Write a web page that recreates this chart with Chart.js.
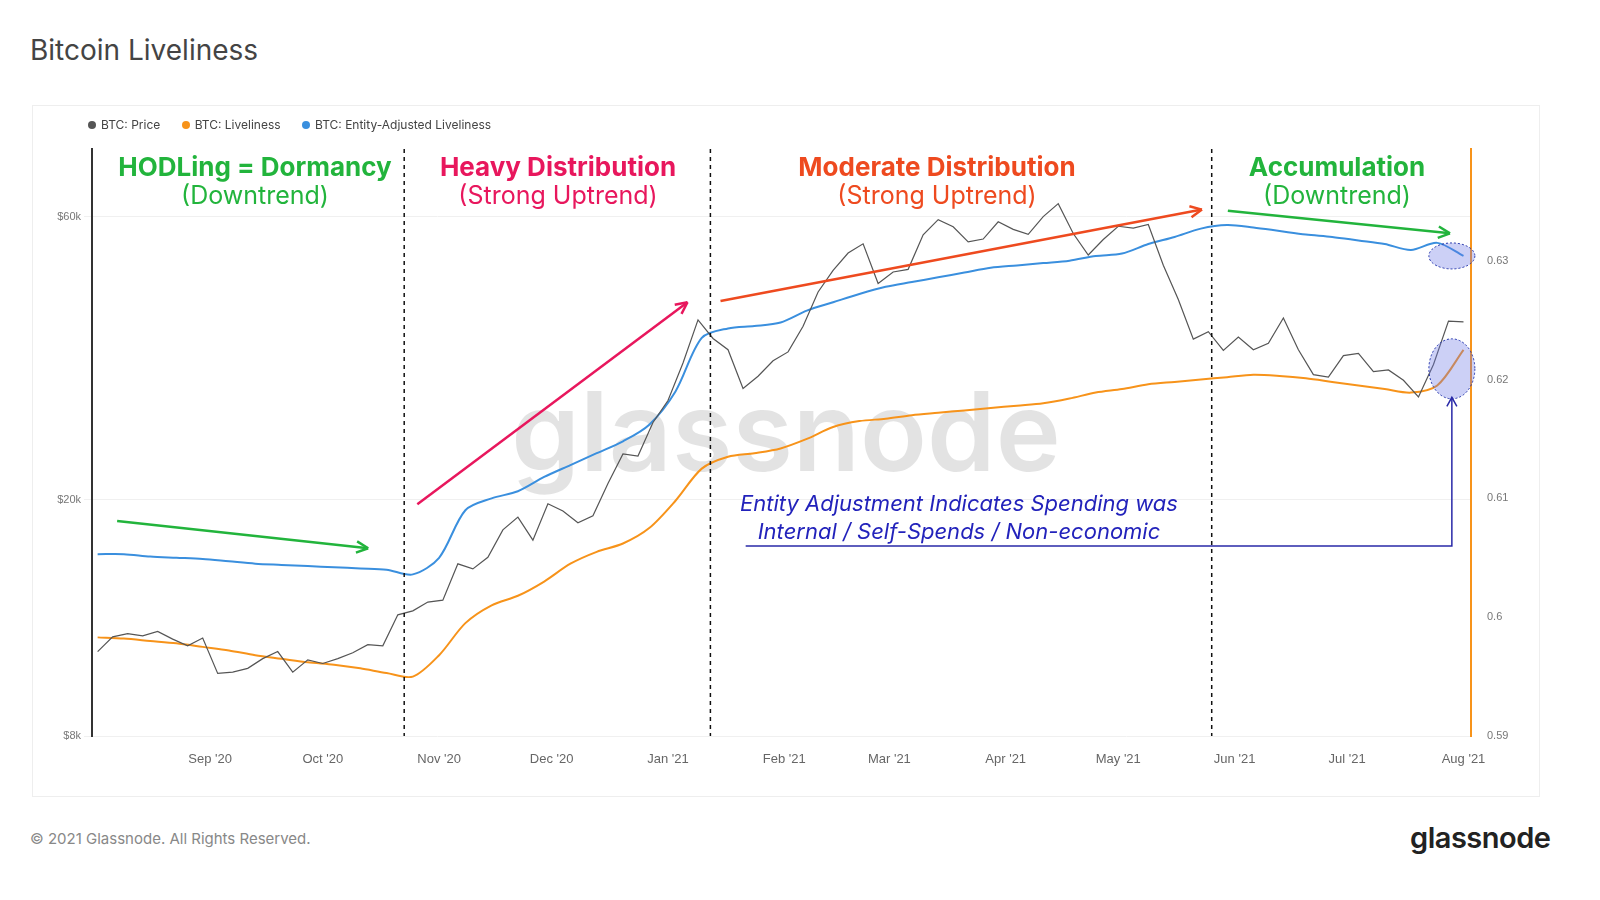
<!DOCTYPE html>
<html>
<head>
<meta charset="utf-8">
<script src="https://cdn.jsdelivr.net/npm/chart.js@4.4.1/dist/chart.umd.min.js"></script>
<style>
  body { margin: 0; background: #fff; font-family: Inter, "Noto Sans", sans-serif; }
  #title { position: absolute; left: 30px; top: 33px; font-size: 28px; color: #444; }
  #box { position: absolute; left: 32px; top: 105px; width: 1508px; height: 692px; border: 1px solid #eee; box-sizing: border-box; }
  #legend { position: absolute; left: 88px; top: 117px; font-size: 12px; color: #444; }
  #legend span { margin-right: 18px; }
  #legend i { display: inline-block; width: 8px; height: 8px; border-radius: 50%; margin-right: 5px; }
  #foot { position: absolute; left: 30px; top: 829px; font-size: 15px; color: #888; }
  #logo { position: absolute; left: 1410px; top: 820px; font-size: 29px; font-weight: 600; color: #222; letter-spacing: -0.5px; }
</style>
</head>
<body>
<div id="title">Bitcoin Liveliness</div>
<div id="box"><canvas id="c"></canvas></div>
<div id="legend">
  <span><i style="background:#555"></i>BTC: Price</span>
  <span><i style="background:#f7931a"></i>BTC: Liveliness</span>
  <span><i style="background:#3a8fde"></i>BTC: Entity-Adjusted Liveliness</span>
</div>
<div id="foot">© 2021 Glassnode. All Rights Reserved.</div>
<div id="logo">glassnode</div>
<script>
// days since 2 Aug 2020
const monthTicks = [30, 60, 91, 121, 152, 183, 211, 242, 272, 303, 333, 364];
const monthLabels = ["Sep '20", "Oct '20", "Nov '20", "Dec '20", "Jan '21", "Feb '21", "Mar '21", "Apr '21", "May '21", "Jun '21", "Jul '21", "Aug '21"];
const priceTicks = [8000, 20000, 60000];
const livelinessTicks = [0.59, 0.60, 0.61, 0.62, 0.63];

// price every 4 days
const price = [11100, 11750, 11900, 11800, 12000, 11650, 11350, 11700, 10200, 10250, 10400, 10800,
  11100, 10250, 10750, 10600, 10800, 11050, 11400, 11350, 12800, 13000, 13450, 13550,
  15600, 15300, 16000, 17800, 18700, 17100, 19700, 19150, 18300, 18800, 21300, 23900,
  23700, 27000, 29400, 34000, 40200, 37400, 35800, 30800, 32300, 34300, 35500, 39200,
  44800, 48700, 52100, 54000, 46300, 48400, 48900, 55900, 59300, 57700, 54400, 55000,
  58800, 57100, 56000, 60000, 63100, 56200, 51700, 54900, 57800, 57400, 58200, 49700,
  43500, 37300, 38400, 35700, 37600, 35800, 36700, 40500, 35800, 32500, 32200, 35000,
  35300, 32900, 33100, 31800, 29800, 33800, 40000, 39900];

// liveliness weekly
const liveliness = [0.5983, 0.5982, 0.5980, 0.5978, 0.5975, 0.5972, 0.5968, 0.5965, 0.5962, 0.5960,
  0.5957, 0.5953, 0.5950, 0.5968, 0.5995, 0.6010, 0.6018, 0.6030, 0.6045, 0.6055, 0.6062, 0.6075,
  0.6098, 0.6125, 0.6135, 0.6138, 0.6142, 0.6150, 0.6160, 0.6165, 0.6167, 0.6170, 0.6172, 0.6174,
  0.6176, 0.6178, 0.6180, 0.6184, 0.6189, 0.6192, 0.6196, 0.6198, 0.6200, 0.6202, 0.6204, 0.6203,
  0.6201, 0.6198, 0.6195, 0.6192, 0.6189, 0.6195, 0.6225];
const entityLiveliness = [0.6053, 0.6053, 0.6051, 0.6050, 0.6049, 0.6047, 0.6045, 0.6044, 0.6043, 0.6042,
  0.6041, 0.6040, 0.6036, 0.6050, 0.6090, 0.6100, 0.6106, 0.6118, 0.6128, 0.6138, 0.6148, 0.6162,
  0.6190, 0.6235, 0.6243, 0.6245, 0.6248, 0.6258, 0.6265, 0.6272, 0.6278, 0.6282, 0.6286, 0.6290,
  0.6294, 0.6296, 0.6298, 0.6300, 0.6304, 0.6306, 0.6314, 0.6320, 0.6327, 0.6330, 0.6328, 0.6325,
  0.6322, 0.6320, 0.6317, 0.6314, 0.6309, 0.6315, 0.6304];

const toPts = (arr, step) => arr.map((v, i) => ({ x: i * step, y: v }));

const OX = 32, OY = 105;
const annotate = {
  id: 'annotate',
  beforeDatasetsDraw(chart) {
    const c = chart.ctx;
    c.save();
    c.font = '600 110px Inter, sans-serif';
    c.fillStyle = 'rgba(0,0,0,0.11)';
    c.textAlign = 'center'; c.textBaseline = 'middle';
    c.fillText('glassnode', 785 - OX, 437 - OY);
    c.restore();
  },
  afterDatasetsDraw(chart) {
    const c = chart.ctx, sx = chart.scales.x, sy = chart.scales.y1, a = chart.chartArea;
    const X = d => sx.getPixelForValue(d), Y = v => sy.getPixelForValue(v);
    c.save();
    // dashed dividers
    c.strokeStyle = '#111'; c.lineWidth = 1.5; c.setLineDash([4, 4]);
    [81.7, 163.3, 296.9].forEach(d => { c.beginPath(); c.moveTo(X(d), a.top); c.lineTo(X(d), a.bottom); c.stroke(); });
    c.setLineDash([]);
    const arrow = (x1, y1, x2, y2, col) => {
      c.strokeStyle = col; c.fillStyle = col; c.lineWidth = 2.5;
      c.beginPath(); c.moveTo(x1, y1); c.lineTo(x2, y2); c.stroke();
      const ang = Math.atan2(y2 - y1, x2 - x1);
      c.beginPath(); c.moveTo(x2, y2);
      c.lineTo(x2 - 13 * Math.cos(ang - 0.45), y2 - 13 * Math.sin(ang - 0.45));
      c.moveTo(x2, y2);
      c.lineTo(x2 - 13 * Math.cos(ang + 0.45), y2 - 13 * Math.sin(ang + 0.45));
      c.stroke();
    };
    arrow(X(5.2), Y(0.6081), X(72.1), Y(0.6058), '#22b43c');
    arrow(X(85.2), Y(0.6095), X(157.2), Y(0.6265), '#e8175d');
    arrow(X(166), Y(0.6266), X(294.3), Y(0.6343), '#ee4a1f');
    arrow(X(301.2), Y(0.6342), X(360.4), Y(0.6323), '#22b43c');
    // ellipses
    c.setLineDash([2, 2]); c.lineWidth = 1;
    [[0.6304, 23, 13], [0.6209, 23, 30]].forEach(([v, rx, ry]) => {
      c.beginPath(); c.ellipse(X(360.9), Y(v), rx, ry, 0, 0, Math.PI * 2);
      c.fillStyle = 'rgba(110,120,230,0.35)'; c.fill();
      c.strokeStyle = '#2233aa'; c.stroke();
    });
    c.setLineDash([]);
    // entity connector
    c.strokeStyle = '#2a2aa8'; c.lineWidth = 1.5;
    c.beginPath(); c.moveTo(X(172.7), Y(0.6060)); c.lineTo(X(360.9), Y(0.6060)); c.lineTo(X(360.9), Y(0.6185)); c.stroke();
    c.beginPath(); c.moveTo(X(360.9) - 5, Y(0.6185) + 9); c.lineTo(X(360.9), Y(0.6185)); c.lineTo(X(360.9) + 5, Y(0.6185) + 9); c.stroke();
    // texts
    c.textAlign = 'center'; c.textBaseline = 'middle';
    const heads = [
      [254, 'HODLing = Dormancy', '(Downtrend)', '#22b43c'],
      [557, 'Heavy Distribution', '(Strong Uptrend)', '#e8175d'],
      [936, 'Moderate Distribution', '(Strong Uptrend)', '#ee4a1f'],
      [1336, 'Accumulation', '(Downtrend)', '#22b43c']
    ];
    heads.forEach(([x, t1, t2, col]) => {
      c.fillStyle = col;
      c.font = 'bold 26px Inter, sans-serif'; c.fillText(t1, x - OX, 167 - OY);
      c.font = '25px Inter, sans-serif'; c.fillText(t2, x - OX, 195 - OY);
    });
    c.fillStyle = '#2222bb';
    c.font = 'italic 22px Inter, "Open Sans", sans-serif';
    c.fillText('Entity Adjustment Indicates Spending was', 958 - OX, 503 - OY);
    c.fillText('Internal / Self-Spends / Non-economic', 958 - OX, 531 - OY);
    c.restore();
  }
};

new Chart(document.getElementById('c'), {
  type: 'line',
  data: {
    datasets: [
      { label: 'BTC: Price', data: toPts(price, 4), yAxisID: 'y', borderColor: '#555', borderWidth: 1.2, pointRadius: 0, tension: 0 },
      { label: 'BTC: Liveliness', data: toPts(liveliness, 7), yAxisID: 'y1', borderColor: '#f7931a', borderWidth: 2, pointRadius: 0, tension: 0.3 },
      { label: 'BTC: Entity-Adjusted Liveliness', data: toPts(entityLiveliness, 7), yAxisID: 'y1', borderColor: '#3a8fde', borderWidth: 2, pointRadius: 0, tension: 0.3 }
    ]
  },
  options: {
    responsive: true,
    maintainAspectRatio: false,
    animation: false,
    layout: { padding: { top: 43, bottom: 0, left: 0, right: 0 } },
    plugins: { legend: { display: false }, tooltip: { enabled: false } },
    scales: {
      x: {
        type: 'linear', min: -1.5, max: 366,
        afterBuildTicks: s => { s.ticks = monthTicks.map(v => ({ value: v })); },
        ticks: { callback: v => monthLabels[monthTicks.indexOf(v)], color: '#666', font: { size: 13 }, maxRotation: 0, padding: 8 },
        grid: { display: false },
        border: { display: false },
        afterFit: s => { s.height = 60; }
      },
      y: {
        type: 'logarithmic', position: 'left', min: 8000, max: 78000,
        afterBuildTicks: s => { s.ticks = priceTicks.map(v => ({ value: v })); },
        ticks: { callback: v => '$' + v / 1000 + 'k', color: '#777', font: { size: 11 } },
        grid: { color: '#f0f0f0' },
        border: { color: '#333', width: 2 },
        afterFit: s => { s.width = 59; }
      },
      y1: {
        position: 'right', min: 0.59, max: 0.6394,
        afterBuildTicks: s => { s.ticks = livelinessTicks.map(v => ({ value: v })); },
        ticks: { callback: v => +v.toFixed(2), color: '#777', font: { size: 11 }, padding: 8 },
        grid: { display: false },
        border: { color: '#f7931a', width: 2 },
        afterFit: s => { s.width = 68; }
      }
    }
  },
  plugins: [annotate]
});
</script>
</body>
</html>
